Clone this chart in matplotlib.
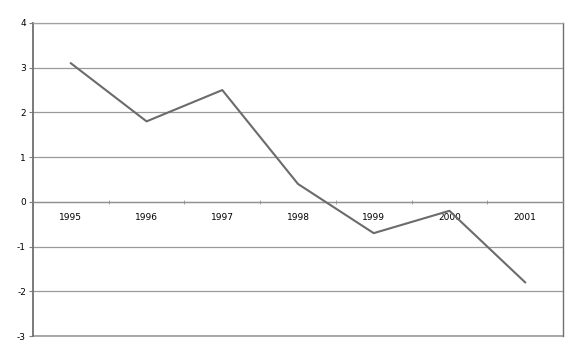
import matplotlib
matplotlib.use('Agg')
import matplotlib.pyplot as plt
import numpy as np

plt.rcParams['axes.unicode_minus'] = False  # plain hyphen for negatives

years = ['1995', '1996', '1997', '1998', '1999', '2000', '2001']
values = [3.1, 1.8, 2.5, 0.4, -0.7, -0.2, -1.8]

fig = plt.figure(figsize=(5.8, 3.61), dpi=100)
ax = fig.add_axes([33/580, 1-336/361, (563-33)/580, (336-23)/361])

x = np.arange(len(years))
ax.plot(x, values, color='#6b6b6b', linewidth=1.5, zorder=3)

ax.set_xlim(-0.5, len(years)-0.5)
ax.set_ylim(-3, 4)
ax.set_yticks(range(-3, 5))
ax.yaxis.grid(True, color='#9a9a9a', linewidth=0.9)
ax.axhline(-3, color='#9a9a9a', linewidth=1.2, clip_on=False)  # bottom frame line
ax.tick_params(axis='y', length=3, width=0.8, color='#808080', labelsize=6.5, pad=2)

# category axis at zero
ax.spines['bottom'].set_position(('data', 0))
ax.spines['bottom'].set_color('#909090')
ax.spines['bottom'].set_linewidth(0.9)
ax.set_xticks(x)
ax.set_xticklabels(years)
ax.set_xticks(np.arange(len(years)+1)-0.5, minor=True)
ax.tick_params(axis='x', which='major', length=0, labelsize=6.5, pad=8)
ax.tick_params(axis='x', which='minor', length=3, direction='inout', color='#909090')

ax.spines['left'].set_color('#707070')
ax.spines['left'].set_linewidth(1.3)
ax.spines['right'].set_color('#707070')
ax.spines['right'].set_linewidth(1.0)
ax.spines['top'].set_color('#a0a0a0')
ax.spines['top'].set_linewidth(0.9)

plt.savefig('out.png', dpi=100)
